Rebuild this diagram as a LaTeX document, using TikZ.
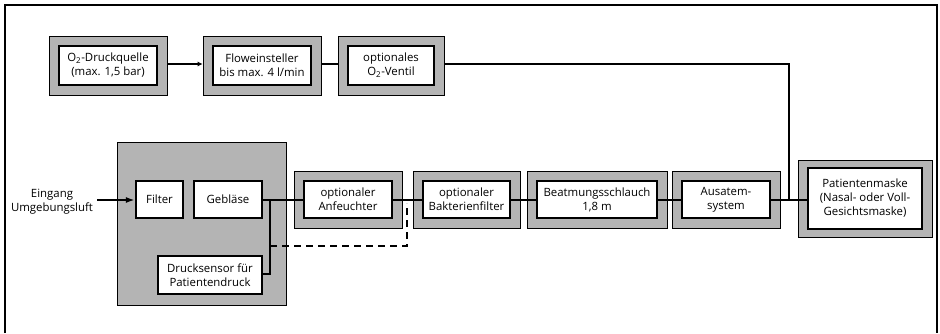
\documentclass[tikz,border=0pt]{standalone}
\usepackage{fontspec}
\setmainfont{Open Sans}
\usetikzlibrary{arrows.meta,fit,backgrounds}
\definecolor{shellgrey}{RGB}{180,180,180}
\begin{document}
\begin{tikzpicture}[x=1pt,y=-1pt,
  line width=2.2pt,
  every node/.style={font=\fontsize{11.4}{14}\selectfont},
  part/.style={draw, fill=white, inner sep=0pt, align=center},
  shell/.style={draw, fill=shellgrey, inner sep=9pt},
  feed/.style={-{Latex[length=9pt,width=6pt]}},
  smallfeed/.style={-{Latex[length=5pt,width=5pt]}},
  probe/.style={dashed, dash pattern=on 7pt off 5pt}]
\useasboundingbox (0,0) rectangle (940,333);

% outer frame, open at the bottom
\draw (5,333) -- (5,5) -- (937,5) -- (937,333);

% oxygen branch
\node[part, minimum width=98pt, minimum height=39pt] (o2src) at (108,65.5) {O\textsubscript{2}-Druckquelle\\(max. 1,5 bar)};
\node[part, minimum width=98pt, minimum height=39pt] (flow) at (262,65.5) {Floweinsteller\\bis max. 4 l/min};
\node[part, minimum width=86pt, minimum height=39pt] (valve) at (391,65.5) {optionales\\O\textsubscript{2}-Ventil};

% breathing circuit
\node[part, minimum width=88pt, minimum height=37pt] (humid) at (348,199.5) {optionaler\\Anfeuchter};
\node[part, minimum width=87pt, minimum height=37pt] (bactf) at (466.5,199.5) {optionaler\\Bakterienfilter};
\node[part, minimum width=120pt, minimum height=37pt] (hose) at (597,199.5) {Beatmungsschlauch\\1,8 m};
\node[part, minimum width=88pt, minimum height=37pt] (exhal) at (726,199.5) {Ausatem-\\system};
\node[part, minimum width=114pt, minimum height=61pt] (mask) at (865,198.5) {Patientenmaske\\(Nasal- oder Voll-\\Gesichtsmaske)};

% device unit
\node[part, minimum width=47pt, minimum height=37pt] (filter) at (159.5,199.5) {Filter};
\node[part, minimum width=68pt, minimum height=37pt] (blower) at (228,199.5) {Gebläse};
\node[part, minimum width=104pt, minimum height=38pt] (psens) at (210,275) {Drucksensor für\\Patientendruck};

% grey housings
\begin{scope}[on background layer]
  \node[shell, fit=(o2src)] (o2srcS) {};
  \node[shell, fit=(flow)] (flowS) {};
  \node[shell, fit=(valve)] (valveS) {};
  \node[shell, fit=(humid)] (humidS) {};
  \node[shell, fit=(bactf)] (bactfS) {};
  \node[shell, fit=(hose)] (hoseS) {};
  \node[shell, fit=(exhal)] (exhalS) {};
  \node[shell, fit=(mask), inner xsep=9pt, inner ysep=7pt] (maskS) {};
  \node[draw, fill=shellgrey, minimum width=169pt, minimum height=163pt, inner sep=0pt] (unit) at (201.5,223.5) {};
\end{scope}

% ambient air inlet
\node[align=center] (inlet) at (52,201.5) {Eingang\\Umgebungsluft};
\coordinate (inletEnd) at (97,200);
\draw[feed] (inletEnd) -- (filter.west |- inletEnd);

% oxygen line
\draw[smallfeed] (o2srcS.east |- 0,64) -- (flowS.west |- 0,64);
\draw (flowS.east |- 0,64) -- (valveS.west |- 0,64);
\coordinate (join) at (789,200);
\draw (valveS.east |- 0,64) -| (join);

% main gas path
\coordinate (tap) at (270,200);
\draw (blower.east |- tap) -- (humid.west |- tap);
\draw (humid.east |- tap) -- (bactf.west |- tap);
\draw (bactf.east |- tap) -- (hose.west |- tap);
\draw (hose.east |- tap) -- (exhal.west |- tap);
\draw (exhal.east |- tap) -- (mask.west |- tap);

% pressure sensing
\draw (tap) |- (psens.east |- 0,274);
\draw[probe] (270,246) -| (407,203);
\end{tikzpicture}
\end{document}
